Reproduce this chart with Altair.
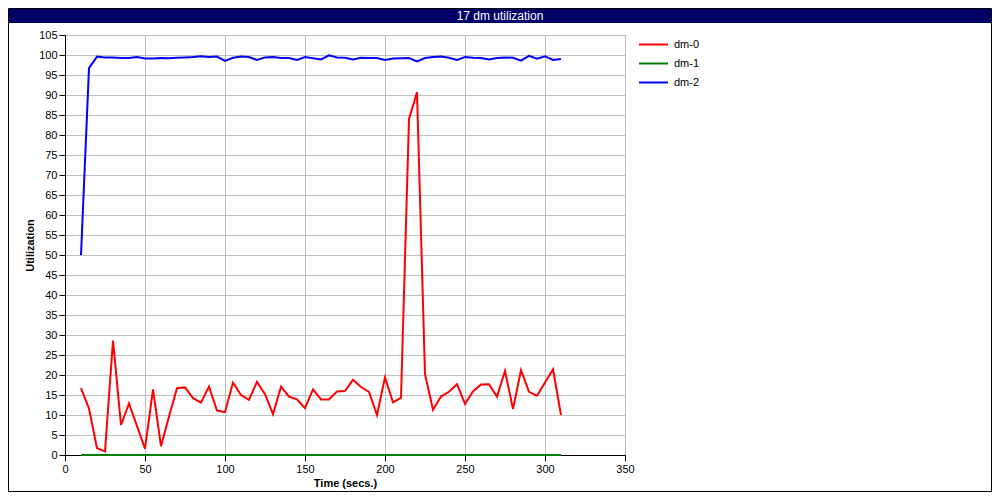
import altair as alt
import pandas as pd

# ---- data ----
series_names = ["dm-0", "dm-1", "dm-2"]
series_colors = ["#ff0000", "#008000", "#0000ff"]

time_s = [10, 15, 20, 25, 30, 35, 40, 45, 50, 55,
          60, 65, 70, 75, 80, 85, 90, 95, 100, 105,
          110, 115, 120, 125, 130, 135, 140, 145, 150, 155,
          160, 165, 170, 175, 180, 185, 190, 195, 200, 205,
          210, 215, 220, 225, 230, 235, 240, 245, 250, 255,
          260, 265, 270, 275, 280, 285, 290, 295, 300, 305,
          310]

dm0 = [16.7, 11.6, 1.7, 0.9, 28.6, 7.5, 12.9, 7.2, 1.6, 16.4,
       2.2, 9.6, 16.7, 16.9, 14.2, 13.1, 17.1, 11.1, 10.7, 18.1,
       15.0, 13.8, 18.3, 15.2, 10.2, 17.1, 14.6, 13.9, 11.7, 16.4,
       13.9, 13.9, 15.9, 16.0, 18.8, 17.0, 15.8, 10.0, 19.4, 13.2,
       14.3, 84.0, 90.7, 20.2, 11.3, 14.6, 15.8, 17.7, 12.8, 15.9,
       17.6, 17.7, 14.6, 21.0, 11.5, 21.2, 15.8, 14.8, 18.1, 21.4,
       10.0]

dm1 = [0, 0, 0, 0, 0, 0, 0, 0, 0, 0,
       0, 0, 0, 0, 0, 0, 0, 0, 0, 0,
       0, 0, 0, 0, 0, 0, 0, 0, 0, 0,
       0, 0, 0, 0, 0, 0, 0, 0, 0, 0,
       0, 0, 0, 0, 0, 0, 0, 0, 0, 0,
       0, 0, 0, 0, 0, 0, 0, 0, 0, 0,
       0]

dm2 = [50.0, 96.7, 99.6, 99.4, 99.4, 99.25, 99.25, 99.5, 99.1, 99.1,
       99.25, 99.2, 99.3, 99.4, 99.5, 99.7, 99.5, 99.6, 98.5, 99.3,
       99.6, 99.5, 98.75, 99.4, 99.5, 99.25, 99.25, 98.75, 99.5, 99.2,
       98.9, 99.9, 99.4, 99.3, 98.9, 99.3, 99.25, 99.25, 98.75, 99.1,
       99.2, 99.25, 98.4, 99.25, 99.5, 99.6, 99.3, 98.75, 99.5, 99.3,
       99.25, 98.9, 99.25, 99.4, 99.3, 98.6, 99.8, 99.1, 99.7, 98.75,
       99.0]

x_ticks = [0, 50, 100, 150, 200, 250, 300, 350]
y_ticks = [0, 5, 10, 15, 20, 25, 30, 35, 40, 45, 50, 55, 60, 65, 70,
           75, 80, 85, 90, 95, 100, 105]

chart_title = "17 dm utilization"
x_title = "Time (secs.)"
y_title = "Utilization"

# ---- build long table ----
rows = []
for name, vals in zip(series_names, [dm0, dm1, dm2]):
    for t, v in zip(time_s, vals):
        rows.append({"time": t, "util": v, "series": name})
df = pd.DataFrame(rows)

# ---- layout (chart coordinates) ----
W, H = 984, 484
PL, PT = 57, 27
PW, PH = 560, 420
FONT = "Liberation Sans"

lines = alt.Chart(df).mark_line(strokeWidth=2).encode(
    x=alt.X("time:Q",
            scale=alt.Scale(domain=[0, 350], nice=False, zero=False),
            axis=alt.Axis(values=x_ticks, title=x_title, titleY=28,
                          titleBaseline="middle", labelFlush=False)),
    y=alt.Y("util:Q",
            scale=alt.Scale(domain=[0, 105], nice=False),
            axis=alt.Axis(values=y_ticks, title=y_title, titleX=-30,
                          titleY=PH / 2)),
    color=alt.Color("series:N",
                    scale=alt.Scale(domain=series_names, range=series_colors),
                    legend=alt.Legend(orient="none", legendX=573, legendY=1,
                                      title=None, symbolType="stroke",
                                      symbolSize=841, symbolStrokeWidth=2,
                                      labelFont=FONT, labelFontSize=11,
                                      labelColor="black", padding=0,
                                      labelOffset=5, clipHeight=17,
                                      rowPadding=2)),
    order="time:Q",
)

title_df = pd.DataFrame({"label": [chart_title]})
title_bar = alt.Chart(title_df).mark_rect(color="#000066").encode(
    x=alt.value(-PL + 1), x2=alt.value(W - PL - 1),
    y=alt.value(-PT + 1), y2=alt.value(-PT + 15),
)
title_text = alt.Chart(title_df).mark_text(
    color="white", font=FONT, fontSize=12, align="center", baseline="middle"
).encode(
    x=alt.value(500 - 8 - PL), y=alt.value(-PT + 8), text="label:N"
)
border = alt.Chart(title_df).mark_rect(
    fillOpacity=0, stroke="black", strokeWidth=1
).encode(
    x=alt.value(-PL + 0.5), x2=alt.value(W - PL - 0.5),
    y=alt.value(-PT + 0.5), y2=alt.value(H - PT - 0.5),
)

chart = alt.layer(border, title_bar, title_text, lines).properties(
    width=PW, height=PH,
    padding={"left": PL, "top": PT, "right": W - PL - PW, "bottom": H - PT - PH},
    autosize=alt.AutoSizeParams(type="none"),
    background="white",
).configure_view(
    stroke="black", strokeWidth=1
).configure_axis(
    labelFont=FONT, labelFontSize=11, labelColor="black",
    titleFont=FONT, titleFontSize=11, titleFontWeight="bold", titleColor="black",
    domainColor="black", tickColor="black", tickSize=6, labelPadding=2,
    gridColor="#c0c0c0", gridWidth=1,
)

chart.save("out.html", embed_options={"renderer": "svg", "actions": False})
